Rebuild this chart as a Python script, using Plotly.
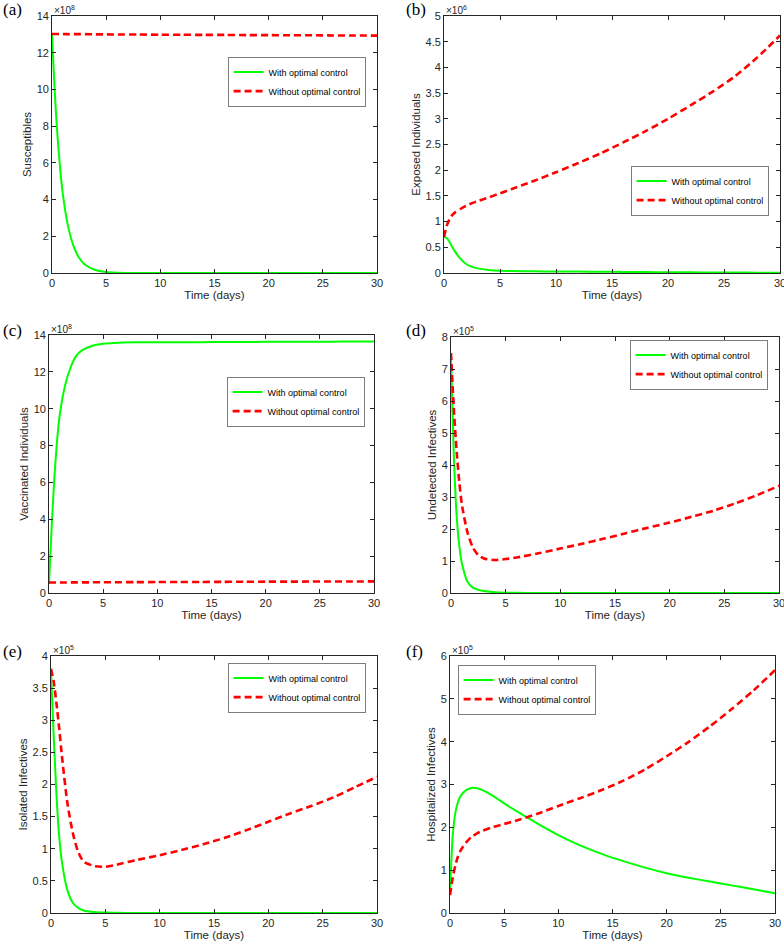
import plotly.graph_objects as go

# ---------------- data ----------------
time_days = [0, 0.25, 0.5, 0.75, 1, 1.5, 2, 2.5, 3, 4, 5, 6, 8, 10, 12, 14, 16, 18, 20, 22, 24, 26, 28, 30]

# (a) Susceptibles, x10^8
sus_with = [13.0, 9.9, 7.5, 5.7, 4.3, 2.5, 1.45, 0.83, 0.48, 0.16, 0.05, 0.02, 0.003,
            0.001, 0, 0, 0, 0, 0, 0, 0, 0, 0, 0]
sus_without = [13.02, 13.02, 13.02, 13.02, 13.02, 13.01, 13.01, 13.01, 13.01, 13.0, 13.0, 12.99,
               12.99, 12.98, 12.98, 12.97, 12.97, 12.96, 12.96, 12.95, 12.95, 12.94, 12.94, 12.93]

# (b) Exposed, x10^6
exp_with = [0.70, 0.68, 0.60, 0.50, 0.41, 0.27, 0.17, 0.12, 0.09, 0.06, 0.045, 0.04, 0.033,
            0.03, 0.027, 0.024, 0.021, 0.018, 0.015, 0.013, 0.011, 0.009, 0.007, 0.005]
exp_without = [0.70, 0.92, 1.05, 1.13, 1.18, 1.25, 1.31, 1.36, 1.40, 1.47, 1.55, 1.63, 1.79,
               1.96, 2.14, 2.33, 2.54, 2.76, 3.0, 3.26, 3.53, 3.83, 4.2, 4.62]

# (c) Vaccinated, x10^8
vac_with = [0.5, 3.6, 6.3, 8.3, 9.7, 11.3, 12.25, 12.85, 13.15, 13.42, 13.53, 13.57, 13.6,
            13.6, 13.61, 13.61, 13.62, 13.62, 13.63, 13.63, 13.64, 13.64, 13.65, 13.65]
vac_without = [0.57, 0.57, 0.57, 0.57, 0.57, 0.57, 0.575, 0.575, 0.575, 0.58, 0.58, 0.585, 0.59,
               0.595, 0.6, 0.6, 0.605, 0.61, 0.615, 0.615, 0.62, 0.625, 0.625, 0.63]

# (d) Undetected infectives, x10^5
und_with = [7.3, 4.4, 2.5, 1.5, 0.92, 0.36, 0.17, 0.1, 0.06, 0.025, 0.01, 0.005, 0.001,
            0, 0, 0, 0, 0, 0, 0, 0, 0, 0, 0]
und_without = [7.5, 5.8, 4.5, 3.5, 2.75, 1.9, 1.42, 1.18, 1.08, 1.03, 1.06, 1.11, 1.24,
               1.39, 1.54, 1.70, 1.87, 2.04, 2.2, 2.38, 2.57, 2.8, 3.06, 3.35]

# (e) Isolated infectives, x10^5
iso_with = [3.75, 2.75, 1.85, 1.2, 0.8, 0.36, 0.16, 0.08, 0.04, 0.015, 0.006, 0.003, 0.001,
            0, 0, 0, 0, 0, 0, 0, 0, 0, 0, 0]
iso_without = [3.8, 3.6, 3.27, 2.88, 2.45, 1.72, 1.25, 0.95, 0.8, 0.73, 0.72, 0.75, 0.83,
               0.9, 0.98, 1.07, 1.17, 1.29, 1.42, 1.55, 1.67, 1.8, 1.96, 2.12]

# (f) Hospitalized infectives, x10^5
hos_with = [0.5, 1.8, 2.35, 2.6, 2.74, 2.87, 2.92, 2.91, 2.87, 2.73, 2.56, 2.4, 2.1,
            1.82, 1.58, 1.38, 1.21, 1.06, 0.93, 0.825, 0.735, 0.645, 0.555, 0.46]
hos_without = [0.42, 0.82, 1.12, 1.33, 1.47, 1.65, 1.78, 1.86, 1.92, 2.01, 2.08, 2.15, 2.31,
               2.5, 2.68, 2.87, 3.09, 3.35, 3.66, 3.99, 4.36, 4.76, 5.19, 5.67]

panel_letters = ["(a)", "(b)", "(c)", "(d)", "(e)", "(f)"]
y_titles = ["Susceptibles", "Exposed Individuals", "Vaccinated Individuals",
            "Undetected Infectives", "Isolated Infectives", "Hospitalized Infectives"]
exponents = [8, 6, 8, 5, 5, 5]
y_max = [14, 5, 14, 8, 4, 6]
y_step = [2, 0.5, 2, 1, 0.5, 1]
x_ticks = [0, 5, 10, 15, 20, 25, 30]
series_with = [sus_with, exp_with, vac_with, und_with, iso_with, hos_with]
series_without = [sus_without, exp_without, vac_without, und_without, iso_without, hos_without]
legend_names = ["With optimal control", "Without optimal control"]

# ---------------- layout geometry (pixels) ----------------
W, H = 784, 944
boxes = [  # left, right, top, bottom
    (52, 377, 16, 273),
    (444, 780, 16, 273),
    (49, 374, 335, 593),
    (451, 779, 337, 593),
    (51, 377, 656, 913),
    (450, 775, 656, 913),
]
legend_pos = [(228, 57), (631, 166), (227, 377), (630, 340), (228, 663), (458, 665)]
letter_pos = [(1, 9), (404, 9), (1, 330), (404, 330), (1, 651), (404, 651)]

fig = go.Figure()
ink = "#262626"
layout = dict(
    width=W, height=H, margin=dict(l=0, r=0, t=0, b=0, autoexpand=False),
    paper_bgcolor="white", plot_bgcolor="white",
    font=dict(family="Liberation Sans, Arial, sans-serif", color=ink),
    showlegend=True, annotations=[],
)

def fmt(v):
    s = ("%.1f" % v)
    return s[:-2] if s.endswith(".0") else s

for i in range(6):
    k = i + 1
    xa = "x" if k == 1 else "x%d" % k
    ya = "y" if k == 1 else "y%d" % k
    lg = "legend" if k == 1 else "legend%d" % k
    scale = 10 ** exponents[i]
    yw = [v * scale for v in series_with[i]]
    yo = [v * scale for v in series_without[i]]
    fig.add_trace(go.Scatter(x=time_days, y=yw, mode="lines", name=legend_names[0],
                             line=dict(color="#00FF00", width=2, shape="spline", smoothing=0.6),
                             xaxis=xa, yaxis=ya, legend=lg))
    fig.add_trace(go.Scatter(x=time_days, y=yo, mode="lines", name=legend_names[1],
                             line=dict(color="#FF0000", width=2.6, dash="7px,4px", shape="spline", smoothing=0.6),
                             xaxis=xa, yaxis=ya, legend=lg))
    l, r, t, b = boxes[i]
    n = int(round(y_max[i] / y_step[i]))
    yt = [j * y_step[i] for j in range(n + 1)]
    axis_common = dict(showline=True, linecolor=ink, linewidth=0.8, mirror="ticks",
                       ticks="inside", ticklen=4, tickcolor=ink, tickwidth=0.8,
                       showgrid=False, zeroline=False, automargin=False,
                       ticklabeloverflow="allow",
                       tickfont=dict(size=11, color=ink))
    layout["xaxis" if k == 1 else "xaxis%d" % k] = dict(
        domain=[l / W, r / W], anchor=ya, range=[0, 30],
        tickvals=x_ticks, ticktext=[str(v) for v in x_ticks],
        title=dict(text="Time (days)", font=dict(size=11.5, color=ink), standoff=2),
        **axis_common)
    layout["yaxis" if k == 1 else "yaxis%d" % k] = dict(
        domain=[1 - b / H, 1 - t / H], anchor=xa, range=[0, y_max[i] * scale],
        tickvals=[v * scale for v in yt], ticktext=[fmt(v) for v in yt],
        title=dict(text=y_titles[i], font=dict(size=11.5, color=ink), standoff=2),
        **axis_common)
    lx, ly = legend_pos[i]
    layout[lg] = dict(x=lx / W, y=1 - ly / H, xanchor="left", yanchor="top",
                      bgcolor="white", bordercolor="#262626", borderwidth=0.6,
                      font=dict(size=9, color="black"), itemwidth=30,
                      tracegroupgap=0)
    layout["annotations"].append(dict(
        x=l / W, y=1 - t / H, xref="paper", yref="paper", xanchor="left", yanchor="bottom",
        text="\u00d710<sup>%d</sup>" % exponents[i], showarrow=False,
        font=dict(size=10, color=ink), yshift=-2))
    px, py = letter_pos[i]
    layout["annotations"].append(dict(
        x=px / W, y=1 - py / H, xref="paper", yref="paper", xanchor="left", yanchor="middle",
        text=panel_letters[i], showarrow=False,
        font=dict(size=17, color="black", family="Liberation Serif, Times New Roman, serif")))

fig.update_layout(**layout)
fig.write_html("out.html",
               config={"displayModeBar": False},
               post_script="document.body.style.margin='0';document.body.style.overflow='hidden';")
